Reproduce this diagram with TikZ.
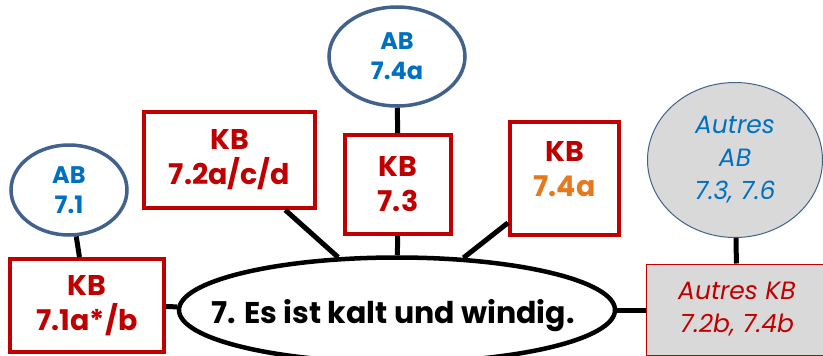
\documentclass[tikz,border=0pt]{standalone}
\usepackage{fontspec}
\setmainfont{Poppins}
\usetikzlibrary{shapes.geometric}

\definecolor{rougekb}{HTML}{C00000}
\definecolor{bleuab}{HTML}{0070C0}
\definecolor{bordab}{HTML}{41628C}
\definecolor{orangekb}{HTML}{E6791E}
\definecolor{grisautre}{HTML}{D9D9D9}

\tikzset{
    kbbox/.style={draw=rougekb, line width=4pt, text=rougekb, align=center,
        inner sep=0pt, font=\fontsize{28.5}{35}\selectfont\bfseries},
    abbulle/.style={ellipse, draw=bordab, line width=3.5pt, text=bleuab, align=center,
        inner sep=0pt, font=\fontsize{24}{30}\selectfont\bfseries},
    lien/.style={line width=5pt}
}

\begin{document}
\begin{tikzpicture}[x=1pt, y=-1pt]
    \useasboundingbox (0,0) rectangle (823,356);

    % Thème central
    \node[ellipse, draw, line width=4.5pt, minimum width=436pt, minimum height=105pt,
        inner sep=0pt] (theme) at (397,310) {};
    \node[font=\fontsize{30}{36}\selectfont\bfseries] (titre) at (393,316) {7. Es ist kalt und windig.};

    % Cahier (KB)
    \node[kbbox, minimum width=154pt, minimum height=93pt] (kbone) at (87,305.5) {KB\\7.1a*/b};
    \node[kbbox, minimum width=171pt, minimum height=96pt] (kbtwo) at (229.5,160) {KB\\7.2a/c/d};
    \node[kbbox, minimum width=106pt, minimum height=99pt] (kbthree) at (398,184.5) {KB\\7.3};
    \node[kbbox, minimum width=109pt, minimum height=113pt, text depth=20pt] (kbfour) at (564.5,178.5)
        {KB\\\textcolor{orangekb}{7.4a}};

    % Livre (AB)
    \node[abbulle, minimum width=116pt, minimum height=90pt] (abone) at (69,190) {AB\\7.1};
    \node[abbulle, minimum width=136pt, minimum height=99pt] (abfour) at (397,56.5) {AB\\7.4a};

    % Autres exercices
    \node[ellipse, draw=bordab, line width=1pt, fill=grisautre, text=bleuab, align=center,
        minimum width=175pt, minimum height=155pt, inner sep=0pt,
        font=\fontsize{25}{33}\selectfont\itshape] (autresab) at (735,160) {Autres\\AB\\7.3, 7.6};
    \node[draw=rougekb, line width=1pt, fill=grisautre, text=rougekb, align=center,
        minimum width=182pt, minimum height=91pt, inner sep=0pt,
        font=\fontsize{25}{33}\selectfont\itshape] (autreskb) at (737,309.5) {Autres KB\\7.2b, 7.4b};

    % Liens
    \draw[lien] (abone) -- (kbone);
    \draw[lien] (kbone) -- (theme);
    \draw[lien] (kbtwo) -- (theme);
    \draw[lien] (abfour) -- (kbthree);
    \draw[lien] (kbthree) -- (theme);
    \draw[lien] (kbfour) -- (theme);
    \draw[lien] (autresab) -- (autreskb);
    \draw[lien] (theme.east) -- (autreskb.west |- theme.east);

\end{tikzpicture}
\end{document}
